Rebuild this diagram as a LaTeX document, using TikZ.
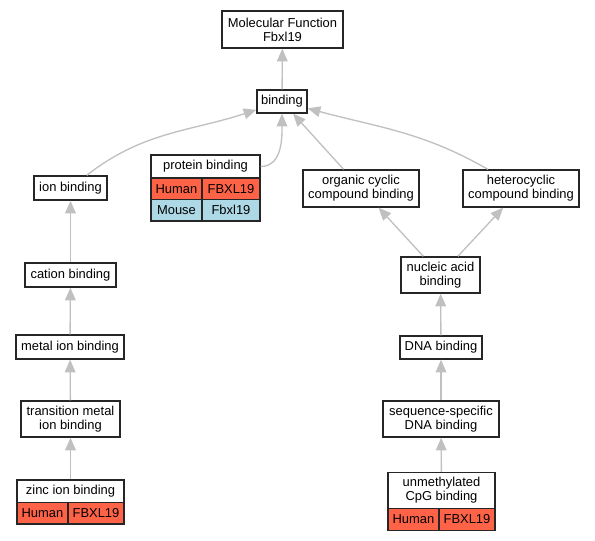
\documentclass[tikz,border=0pt]{standalone}
\usepackage{fontspec}
\setmainfont{Liberation Sans}
\usepackage{tikz}
\usetikzlibrary{calc}
\usetikzlibrary{arrows.meta}
\definecolor{edgegray}{HTML}{C0C0C0}
\definecolor{humanred}{HTML}{FF6347}
\definecolor{mouseblue}{HTML}{ADD8E6}
\newcommand{\goterm}[6]{\node[term, minimum width={(#4-#2)*0.75pt}, minimum height={(#5-#3)*0.75pt}] (#1) at ({(#2+#4)/2},{-(#3+#5)/2}) {#6};}
\newcommand{\gocell}[7]{\node[cell, fill=#6, minimum width={(#4-#2)*0.75pt}, minimum height={(#5-#3)*0.75pt}] (#1) at ({(#2+#4)/2},{-(#3+#5)/2}) {#7};}
\tikzset{
  term/.style={draw=black!85, line width=1pt, fill=white, inner sep=0pt, align=center, font=\fontsize{9.7}{10.6}\selectfont},
  cell/.style={draw=black!85, line width=1pt, inner sep=0pt, font=\fontsize{9.7}{10.6}\selectfont},
  edge/.style={draw=edgegray, line width=1pt, -{Triangle[length=9.5pt, width=8pt, fill=edgegray]}}
}

\begin{document}
\begin{tikzpicture}[x=0.75pt, y=0.75pt]
        \useasboundingbox (0,0) rectangle (595,-541);
        % top
        \goterm{mf}{222}{11}{343}{48}{Molecular Function\\Fbxl19}
        \goterm{binding}{257}{90}{307}{113}{binding}
        % protein binding table
        \goterm{protein}{151}{155}{260}{178}{protein binding}
        \gocell{proteinHs}{151}{178}{202}{199.5}{humanred}{Human}
        \gocell{proteinHsGene}{202}{178}{260}{199.5}{humanred}{FBXL19}
        \gocell{proteinMm}{151}{199.5}{202}{221}{mouseblue}{Mouse}
        \gocell{proteinMmGene}{202}{199.5}{260}{221}{mouseblue}{Fbxl19}
        % left column
        \goterm{ion}{34}{176}{107}{200}{ion binding}
        \goterm{cation}{25}{263}{116}{287}{cation binding}
        \goterm{metal}{16}{335}{124}{359}{metal ion binding}
        \goterm{transition}{21}{401}{120}{437}{transition metal\\ion binding}
        \goterm{zinc}{17}{480}{124}{502.5}{zinc ion binding}
        \gocell{zincHs}{17}{502.5}{68}{524}{humanred}{Human}
        \gocell{zincHsGene}{68}{502.5}{124}{524}{humanred}{FBXL19}
        % right column
        \goterm{organic}{303}{170}{419}{207}{organic cyclic\\compound binding}
        \goterm{hetero}{463}{170}{579}{207}{heterocyclic\\compound binding}
        \goterm{nucleic}{401}{257}{480}{293}{nucleic acid\\binding}
        \goterm{dna}{400}{336}{482}{359}{DNA binding}
        \goterm{seqspec}{383}{401}{499}{437}{sequence-specific\\DNA binding}
        \goterm{unmeth}{388}{472.5}{495}{508.5}{unmethylated\\CpG binding}
        \gocell{unmethHs}{388}{508.5}{439}{530.5}{humanred}{Human}
        \gocell{unmethHsGene}{439}{508.5}{495}{530.5}{humanred}{FBXL19}
        % edges
        \draw[edge] (binding) -- (mf);
        \draw[edge] (ion) to[out=38, in=198] (binding);
        \draw[edge] (protein) to[out=0, in=-90] (binding);
        \draw[edge] (organic) -- (binding);
        \draw[edge] (hetero) to[out=150, in=-15] (binding);
        \draw[edge] (cation) -- (ion);
        \draw[edge] (metal) -- (cation);
        \draw[edge] (transition) -- (metal);
        \draw[edge] (zinc) -- (transition);
        \draw[edge] (nucleic) -- (organic);
        \draw[edge] (nucleic) -- (hetero);
        \draw[edge] (dna) -- (nucleic);
        \draw[edge] (seqspec) -- (dna);
        \draw[edge] (unmeth) -- (seqspec);
    \end{tikzpicture}
\end{document}
